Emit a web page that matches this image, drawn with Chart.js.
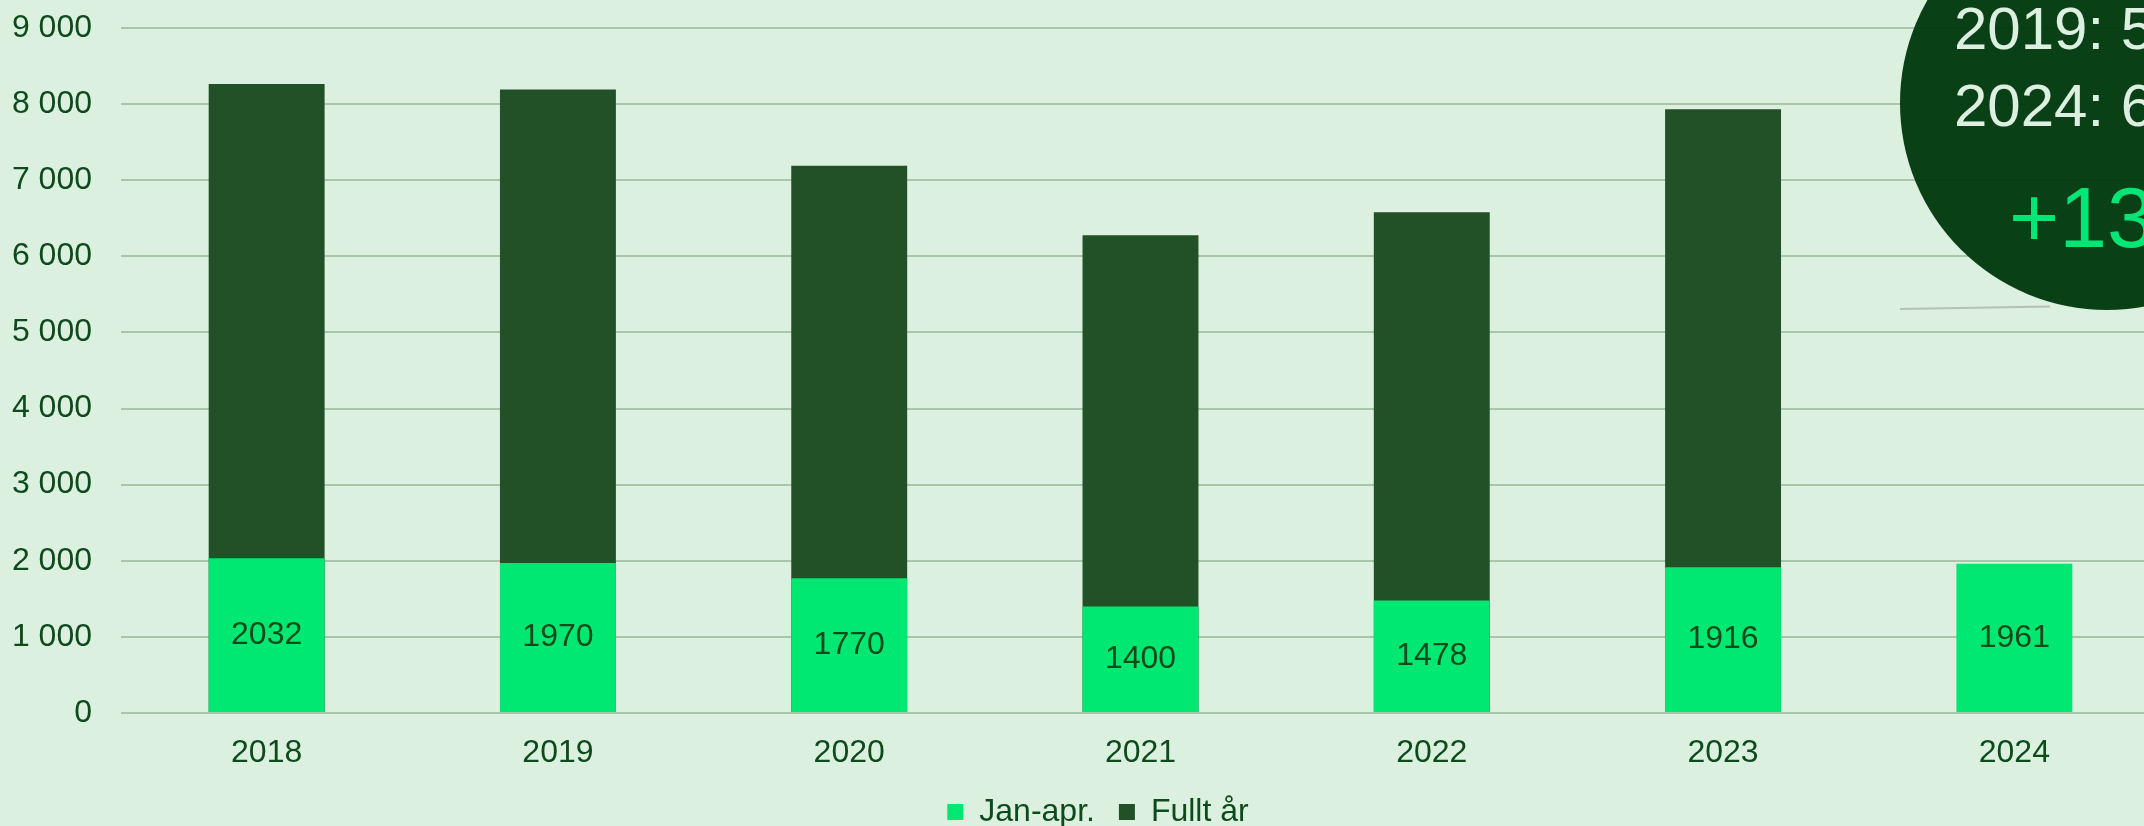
<!DOCTYPE html>
<html>
<head>
<meta charset="utf-8">
<script src="https://cdn.jsdelivr.net/npm/chart.js@4/dist/chart.umd.min.js"></script>
<style>
  html, body { margin: 0; padding: 0; background: #dcf0e0; overflow: hidden; width: 2144px; height: 826px; }
  #wrap { position: absolute; left: 0; top: 0; width: 2196px; height: 838px; }
  #bubble { position: absolute; left: 1900px; top: -104px; width: 414px; height: 414px; border-radius: 50%;
    background: rgba(0, 56, 14, 0.96); }
  .btxt { position: absolute; font-family: "Liberation Sans", Arial, sans-serif; white-space: nowrap; }
  #shadowLine { position: absolute; left: 1900px; top: 308px; width: 150px; height: 2px; background: #b3c2b3;
    transform: rotate(-1deg); transform-origin: left center; }
</style>
</head>
<body>
<div id="wrap"><canvas id="c" width="2196" height="838"></canvas></div>
<div id="shadowLine"></div>
<div id="bubble"></div>
<div class="btxt" style="left:1954px;top:-1px;font-size:60px;line-height:60px;color:#dcefe0">2019: 5</div>
<div class="btxt" style="left:1954px;top:76px;font-size:60px;line-height:60px;color:#dcefe0">2024: 6</div>
<div class="btxt" style="left:2009px;top:174px;font-size:86px;line-height:86px;color:#00e676">+13</div>
<script>
// Jan-apr. vs full year, per year
const years = ["2018", "2019", "2020", "2021", "2022", "2023", "2024"];
const janApr = [2032, 1970, 1770, 1400, 1478, 1916, 1961];
const fullYear = [8263, 8193, 7189, 6276, 6579, 7934, null];
const yTicks = [0, 1000, 2000, 3000, 4000, 5000, 6000, 7000, 8000, 9000];

const INK = "#0d4a1c", LIGHT = "#00e872", DARK = "#225128", GRID = "#a9c5aa";
const FONT = "'Liberation Sans', Arial, sans-serif";
const FS = 32;
const fmt = v => String(v).replace(/\B(?=(\d{3})+(?!\d))/g, " ");

// numbers centred in the Jan-apr. bars
const barLabels = {
  id: "barLabels",
  afterDatasetsDraw(chart) {
    const ctx = chart.ctx, meta = chart.getDatasetMeta(0);
    ctx.save();
    ctx.font = FS + "px " + FONT; ctx.fillStyle = INK;
    ctx.textAlign = "center"; ctx.textBaseline = "middle";
    meta.data.forEach((bar, i) => {
      const p = bar.getProps(["x", "y", "base"], true);
      ctx.fillText(String(janApr[i]), p.x, (p.y + p.base) / 2);
    });
    ctx.restore();
  }
};

new Chart(document.getElementById("c"), {
  type: "bar",
  data: { labels: years, datasets: [
    { label: "Jan-apr.", data: janApr, backgroundColor: LIGHT },
    { label: "Fullt år", data: fullYear, backgroundColor: DARK } ] },
  options: {
    responsive: false, animation: false,
    layout: { padding: { top: 28, left: 0, right: 0, bottom: 0 } },
    datasets: { bar: { barPercentage: 0.398, categoryPercentage: 1 } },
    plugins: {
      tooltip: { enabled: false },
      legend: { position: "bottom",
        labels: { font: { family: FONT, size: FS }, color: INK, boxWidth: 16, boxHeight: 16, padding: 24 } }
    },
    scales: {
      x: { stacked: true, grid: { display: false, drawTicks: false }, border: { display: false },
        ticks: { font: { family: FONT, size: FS }, color: INK, padding: 21 },
        afterFit(s) { s.height = 59; } },
      y: { stacked: false, min: 0, max: 9000,
        afterBuildTicks(s) { s.ticks = yTicks.map(v => ({ value: v })); },
        grid: { color: GRID, lineWidth: 2, drawTicks: false }, border: { display: false },
        ticks: { font: { family: FONT, size: FS }, color: INK, padding: 29, callback: v => fmt(v) },
        afterFit(s) { s.width = 121; s.paddingTop = 0; s.paddingBottom = 0; } },
      y2: { position: "right", display: true, grid: { display: false, drawTicks: false },
        border: { display: false }, ticks: { display: false },
        afterFit(s) { s.width = 36; s.paddingTop = 0; s.paddingBottom = 0; } }
    }
  },
  plugins: [barLabels]
});
</script>
</body>
</html>
